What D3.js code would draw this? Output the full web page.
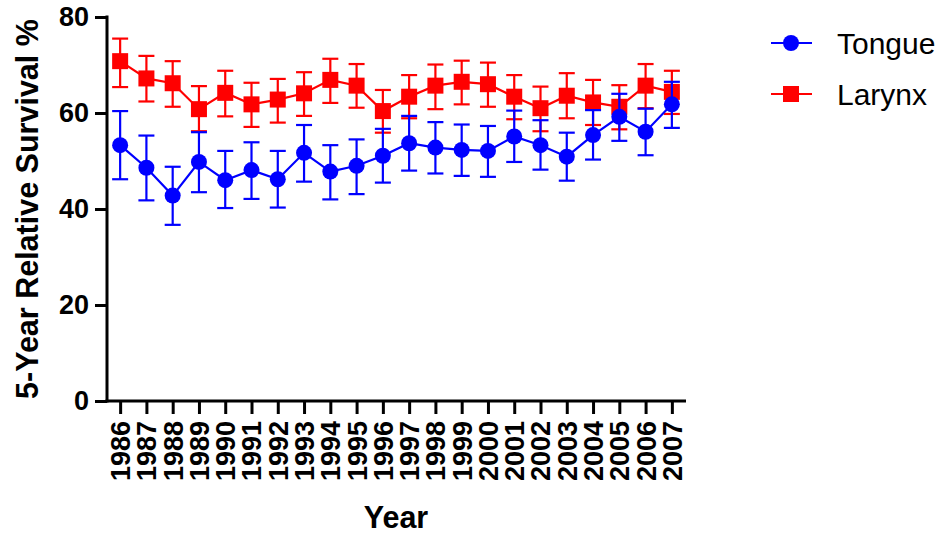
<!DOCTYPE html>
<html>
<head>
<meta charset="utf-8">
<script src="https://cdn.jsdelivr.net/npm/d3@7"></script>
<style>
  body { margin: 0; background: #fff; }
  text { font-family: "Liberation Sans", Arial, sans-serif; }
</style>
</head>
<body>
<div id="chart"></div>
<script>
'use strict';

// Data
const years = [1986, 1987, 1988, 1989, 1990, 1991, 1992, 1993, 1994, 1995, 1996,
    1997, 1998, 1999, 2000, 2001, 2002, 2003, 2004, 2005, 2006, 2007];
const tongue = [53.3, 48.6, 42.8, 49.8, 46.0, 48.1, 46.2, 51.7, 47.8, 49.0, 51.1,
    53.7, 52.8, 52.3, 52.1, 55.1, 53.3, 50.9, 55.4, 59.2, 56.1, 61.8];
const tongueHi = [60.4, 55.3, 48.8, 56.0, 52.1, 53.9, 52.1, 57.5, 53.3, 54.5, 56.7,
    59.4, 58.1, 57.6, 57.3, 60.5, 58.5, 55.9, 60.6, 64.0, 60.9, 66.5];
const tongueLo = [46.2, 41.8, 36.7, 43.5, 40.2, 42.1, 40.3, 45.7, 42.0, 43.1, 45.5,
    48.0, 47.4, 46.9, 46.7, 49.8, 48.2, 45.9, 50.3, 54.2, 51.2, 56.9];
const larynx = [70.8, 67.2, 66.2, 60.8, 64.2, 61.8, 62.8, 64.1, 66.9, 65.7, 60.4,
    63.4, 65.7, 66.5, 66.0, 63.4, 61.0, 63.6, 62.2, 61.3, 65.7, 64.4];
const larynxHi = [75.5, 71.9, 70.8, 65.6, 68.8, 66.3, 67.1, 68.5, 71.3, 70.2, 64.8,
    67.9, 70.1, 70.9, 70.5, 67.9, 65.5, 68.3, 66.9, 65.8, 70.2, 68.8];
const larynxLo = [65.4, 62.4, 61.3, 56.2, 59.3, 57.1, 58.0, 59.4, 62.1, 61.1, 55.9,
    58.9, 60.8, 61.8, 61.3, 58.7, 56.2, 58.9, 57.5, 56.6, 61.0, 59.8];
const yTicks = [0, 20, 40, 60, 80];

// Configs
const w = 945;
const h = 533;
const capW = 16;
const tickFont = '27px';
const titleFont = '30.5px';

const svg = d3.select('#chart')
    .append('svg')
    .attr('width', w)
    .attr('height', h);

// Scales
const x = d3.scalePoint()
    .domain(years)
    .range([107, 685])
    .padding(0.5);
const y = d3.scaleLinear()
    .domain([0, 80])
    .range([401, 17]);

// Series defs
const series = [
    {name: 'Larynx', color: '#ff0000', shape: 'square', mid: larynx, lo: larynxLo, hi: larynxHi},
    {name: 'Tongue', color: '#0000ff', shape: 'circle', mid: tongue, lo: tongueLo, hi: tongueHi}
];

// Draw series (larynx first so tongue sits on top)
series.forEach(s => {
    const g = svg.append('g').attr('class', s.name);
    const pts = years.map((yr, i) => ({yr: yr, v: s.mid[i], lo: s.lo[i], hi: s.hi[i]}));

    // Error bars
    const eb = g.append('g').attr('stroke', s.color).attr('stroke-width', 2.2);
    eb.selectAll('.stem').data(pts).join('line')
        .attr('x1', d => x(d.yr)).attr('x2', d => x(d.yr))
        .attr('y1', d => y(d.lo)).attr('y2', d => y(d.hi));
    eb.selectAll('.capHi').data(pts).join('line')
        .attr('x1', d => x(d.yr) - capW / 2).attr('x2', d => x(d.yr) + capW / 2)
        .attr('y1', d => y(d.hi)).attr('y2', d => y(d.hi));
    eb.selectAll('.capLo').data(pts).join('line')
        .attr('x1', d => x(d.yr) - capW / 2).attr('x2', d => x(d.yr) + capW / 2)
        .attr('y1', d => y(d.lo)).attr('y2', d => y(d.lo));

    // Line
    g.append('path')
        .datum(pts)
        .attr('fill', 'none')
        .attr('stroke', s.color)
        .attr('stroke-width', 2.2)
        .attr('d', d3.line().x(d => x(d.yr)).y(d => y(d.v)));

    // Markers
    if (s.shape === 'circle') {
        g.selectAll('circle').data(pts).join('circle')
            .attr('cx', d => x(d.yr)).attr('cy', d => y(d.v))
            .attr('r', 8).attr('fill', s.color);
    } else {
        g.selectAll('rect').data(pts).join('rect')
            .attr('x', d => x(d.yr) - 8).attr('y', d => y(d.v) - 8)
            .attr('width', 16).attr('height', 16).attr('fill', s.color);
    }
});

// Y axis
const yAxis = svg.append('g')
    .attr('transform', 'translate(107,0)')
    .call(d3.axisLeft(y).tickValues(yTicks).tickSize(12).tickPadding(6));
yAxis.select('.domain').attr('stroke-width', 3).attr('d', 'M0,' + (y(80) - 1.5) + 'V' + (y(0) + 1.5));
yAxis.selectAll('.tick line').attr('stroke-width', 3);
yAxis.selectAll('.tick text')
    .style('font-family', '"Liberation Sans", Arial, sans-serif')
    .style('font-size', tickFont)
    .style('font-weight', 'bold')
    .attr('fill', '#000');

// X axis
const xAxis = svg.append('g')
    .attr('transform', 'translate(0,401)')
    .call(d3.axisBottom(x).tickSize(13).tickPadding(6));
xAxis.select('.domain').attr('stroke-width', 3).attr('d', 'M105.5,0H686');
xAxis.selectAll('.tick line').attr('stroke-width', 3);
xAxis.selectAll('.tick text')
    .style('font-family', '"Liberation Sans", Arial, sans-serif')
    .style('font-size', tickFont)
    .style('font-weight', 'bold')
    .attr('fill', '#000')
    .attr('text-anchor', 'end')
    .attr('dy', '0.35em')
    .attr('transform', 'translate(0,20) rotate(-90)')
    .attr('x', 0).attr('y', 0);

// Axis titles
svg.append('text')
    .attr('x', 396).attr('y', 528)
    .attr('text-anchor', 'middle')
    .style('font-size', titleFont).style('font-weight', 'bold')
    .text('Year');
svg.append('text')
    .attr('transform', 'translate(38,209) rotate(-90)')
    .attr('text-anchor', 'middle')
    .style('font-size', titleFont).style('font-weight', 'bold')
    .text('5-Year Relative Survival %');

// Legend
const legend = svg.append('g').attr('class', 'legend');
const legendItems = [series[1], series[0]];
legendItems.forEach((s, i) => {
    const ly = 43 + i * 51;
    const lg = legend.append('g').attr('transform', `translate(0,${ly})`);
    lg.append('line')
        .attr('x1', 771).attr('x2', 812)
        .attr('stroke', s.color).attr('stroke-width', 2.2);
    if (s.shape === 'circle') {
        lg.append('circle').attr('cx', 791).attr('r', 8).attr('fill', s.color);
    } else {
        lg.append('rect').attr('x', 783).attr('y', -8).attr('width', 16).attr('height', 16).attr('fill', s.color);
    }
    lg.append('text')
        .attr('x', 837).attr('dy', '0.36em')
        .style('font-size', '30px')
        .text(s.name);
});
</script>
</body>
</html>
